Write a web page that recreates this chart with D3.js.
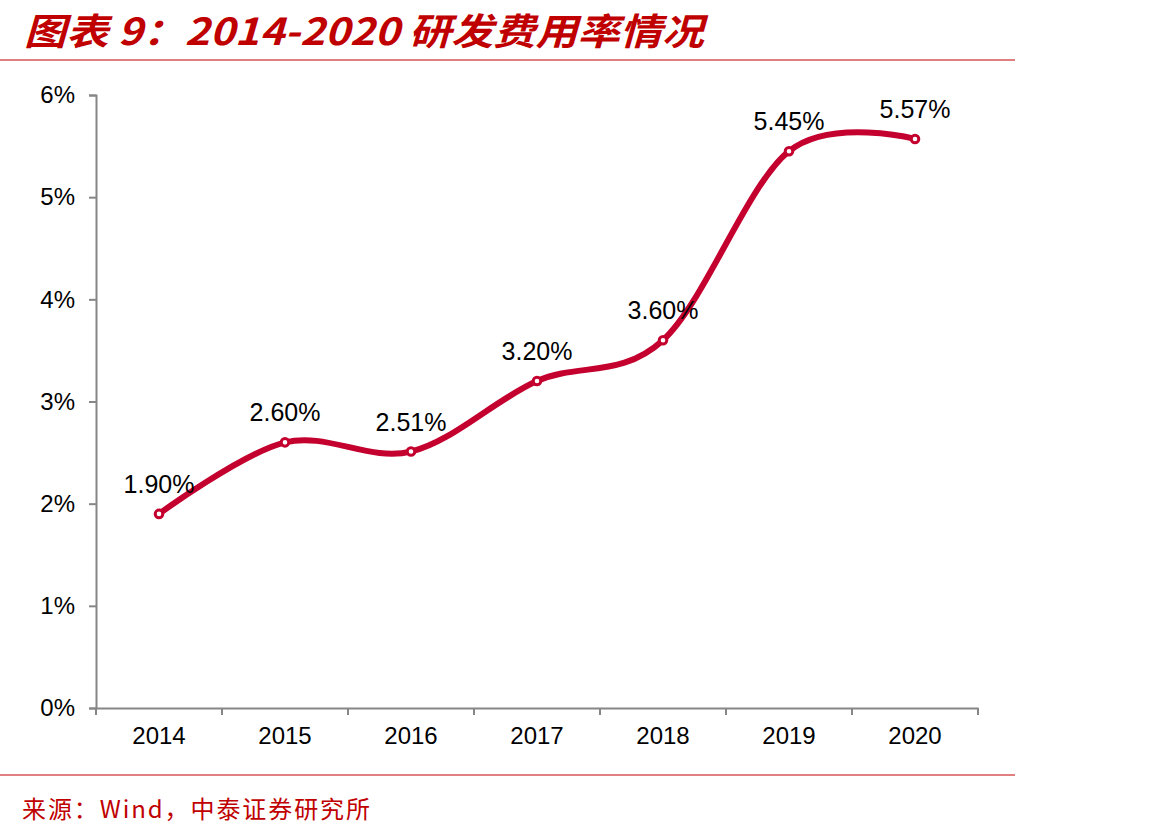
<!DOCTYPE html>
<html lang="zh">
<head>
<meta charset="UTF-8">
<title>研发费用率情况</title>
<script src="https://d3js.org/d3.v7.min.js"></script>
<style>
  body { margin: 0; background: #fff; }
  svg { font-family: "Liberation Sans", Arial, sans-serif; }
  .title { font-family: "Noto Sans CJK SC", sans-serif; font-style: italic; font-weight: bold; fill: #c00000; }
  .source { font-family: "Noto Sans CJK SC", "DejaVu Sans Mono", monospace; fill: #c00000; }
</style>
</head>
<body>
<div id="chart"></div>
<script>
  // data
  var years = ["2014", "2015", "2016", "2017", "2018", "2019", "2020"];
  var rates = [1.90, 2.60, 2.51, 3.20, 3.60, 5.45, 5.57];
  var yTicks = [0, 1, 2, 3, 4, 5, 6];

  var W = 1149, H = 839;
  var margin = {top: 95, left: 96, right: 171, bottom: 131};
  var width = W - margin.left - margin.right,
      height = H - margin.top - margin.bottom;

  var svg = d3.select("#chart").append("svg")
      .attr("width", W)
      .attr("height", H);

  // title + rules
  svg.append("text")
      .attr("class", "title")
      .attr("x", 24).attr("y", 45)
      .attr("textLength", 680)
      .attr("lengthAdjust", "spacingAndGlyphs")
      .style("font-size", "37px")
      .text("图表 9：2014-2020 研发费用率情况");
  svg.append("line")
      .attr("x1", 0).attr("x2", 1015).attr("y1", 60).attr("y2", 60)
      .style("stroke", "#c00000").style("stroke-width", 1.2);
  svg.append("line")
      .attr("x1", 0).attr("x2", 1015).attr("y1", 775).attr("y2", 775)
      .style("stroke", "#c00000").style("stroke-width", 1.2);
  svg.append("text")
      .attr("class", "source")
      .attr("x", 22).attr("y", 818)
      .attr("textLength", 348)
      .attr("lengthAdjust", "spacing")
      .style("font-size", "24px")
      .text("来源：Wind，中泰证券研究所");

  var g = svg.append("g")
      .attr("transform", "translate(" + margin.left + "," + margin.top + ")");

  var x = d3.scaleBand().domain(years).range([0, width]);
  var y = d3.scaleLinear().domain([0, 6]).range([height, 0]);

  // y axis
  g.append("g")
      .call(d3.axisLeft(y).tickValues(yTicks).tickFormat(function(d) { return d + "%"; })
        .tickSize(7).tickSizeOuter(7).tickPadding(14));
  // x axis
  var xAxis = g.append("g")
      .attr("transform", "translate(0," + height + ")")
      .call(d3.axisBottom(x).tickSize(0).tickPadding(19));

  // x ticks sit on the band edges
  xAxis.selectAll(".edge")
      .data(d3.range(years.length + 1))
      .enter().append("line")
      .attr("class", "edge")
      .attr("x1", function(i) { return i * x.step(); })
      .attr("x2", function(i) { return i * x.step(); })
      .attr("y1", 0).attr("y2", 7);

  g.selectAll(".domain, .tick line, .edge")
      .style("stroke", "#868686").style("stroke-width", 2);
  g.selectAll(".tick text")
      .style("font-size", "24px").style("fill", "#000")
      .style("font-family", "'Liberation Sans', Arial, sans-serif");

  var cx = function(d, i) { return x(years[i]) + x.bandwidth() / 2; };

  var line = d3.line()
      .x(function(d, i) { return cx(d, i); })
      .y(function(d) { return y(d); })
      .curve(d3.curveCardinal.tension(0));

  g.append("path")
      .datum(rates)
      .attr("d", line)
      .style("fill", "none")
      .style("stroke", "#c4002f")
      .style("stroke-width", 6)
      .style("stroke-linecap", "round");

  g.selectAll(".dot")
      .data(rates)
      .enter().append("circle")
      .attr("cx", cx)
      .attr("cy", function(d) { return y(d); })
      .attr("r", 3.8)
      .style("fill", "#fff")
      .style("stroke", "#c4002f")
      .style("stroke-width", 3);

  g.selectAll(".lbl")
      .data(rates)
      .enter().append("text")
      .attr("x", cx)
      .attr("y", function(d) { return y(d) - 21; })
      .attr("text-anchor", "middle")
      .style("font-size", "25px")
      .style("fill", "#000")
      .text(function(d) { return d.toFixed(2) + "%"; });
</script>
</body>
</html>
